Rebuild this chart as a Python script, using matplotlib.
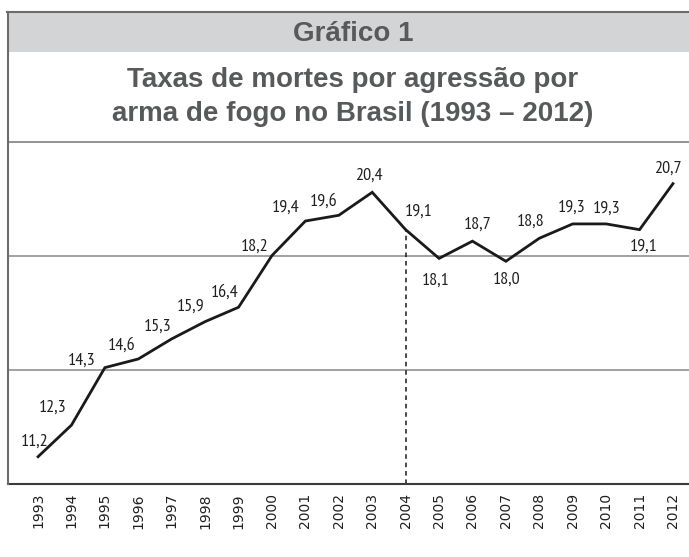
import matplotlib
matplotlib.use("Agg")
import matplotlib.pyplot as plt
from matplotlib.lines import Line2D
from matplotlib.patches import Rectangle

years = list(range(1993, 2013))
rates = [11.2, 12.3, 14.3, 14.6, 15.3, 15.9, 16.4, 18.2, 19.4, 19.6,
         20.4, 19.1, 18.1, 18.7, 18.0, 18.8, 19.3, 19.3, 19.1, 20.7]
labels = ["11,2", "12,3", "14,3", "14,6", "15,3", "15,9", "16,4", "18,2", "19,4", "19,6",
          "20,4", "19,1", "18,1", "18,7", "18,0", "18,8", "19,3", "19,3", "19,1", "20,7"]
# label offsets (pixels)
offsets = [(-3, 15), (-19, 17), (-23, 7), (-17, 13), (-14, 12), (-14, 15), (-14, 15),
           (-17, 9), (-20, 13), (-15, 14), (-3, 17), (13, 18), (-3, -22), (5, 16),
           (1, -18), (-9, 17), (-1, 16), (1, 15), (4, -17), (-5, 15)]
header = "Gráfico 1"
title_lines = ["Taxas de mortes por agressão por", "arma de fogo no Brasil (1993 – 2012)"]

W, H = 689, 557
fig = plt.figure(figsize=(W / 100, H / 100), dpi=100)

def fx(px):
    return px / W

def fy(py):
    return 1 - py / H

TXT = "#58595b"
# header band
fig.patches.append(Rectangle((fx(7), fy(52)), 1 - fx(7), fy(12) - fy(52),
                             transform=fig.transFigure, facecolor="#d3d4d6",
                             edgecolor="none", zorder=0))
fig.lines.append(Line2D([fx(7), 1], [fy(12), fy(12)], transform=fig.transFigure,
                        color="#6b6b6b", lw=1.5))
fig.lines.append(Line2D([fx(7.5), fx(7.5)], [fy(12), fy(484)], transform=fig.transFigure,
                        color="#6b6b6b", lw=1.5))
fig.text(fx(353), fy(41), header, ha="center", va="baseline", fontsize=20,
         fontweight="bold", color=TXT, family="Liberation Sans")
fig.text(fx(353), fy(87), title_lines[0], ha="center", va="baseline", fontsize=20,
         fontweight="bold", color=TXT, family="Liberation Sans")
fig.text(fx(353), fy(121), title_lines[1], ha="center", va="baseline", fontsize=20,
         fontweight="bold", color=TXT, family="Liberation Sans")

ax = fig.add_axes([fx(8), fy(484), 1 - fx(8), fy(142) - fy(484)])
ax.set_xlim(1992.1, 2012.48)
ax.set_ylim(10.25, 22.15)
ax.set_yticks([14.2, 18.2])
ax.yaxis.grid(True, color="#9a9a9a", lw=1.3)
ax.tick_params(axis="y", length=0, labelleft=False)
ax.set_xticks(years)
ax.set_xticklabels([str(y) for y in years], rotation=90, fontsize=10,
                   color="#231f20", family="DejaVu Sans")
ax.tick_params(axis="x", length=0, pad=6.5)
ax.spines["right"].set_visible(False)
ax.spines["top"].set_color("#8a8a8a")
ax.spines["top"].set_linewidth(1.3)
ax.spines["left"].set_visible(False)
ax.spines["bottom"].set_color("#3a3a3a")
ax.spines["bottom"].set_linewidth(1.5)
ax.set_axisbelow(True)

ax.plot(years, rates, color="#1a1a1a", lw=2.0, zorder=3, solid_joinstyle="miter")
i04 = years.index(2004)
ax.plot([2004, 2004], [10.25, rates[i04]], color="#1a1a1a", lw=1.1,
        ls=(0, (3, 2.5)), zorder=2)

for x, y, lab, (dx, dy) in zip(years, rates, labels, offsets):
    ax.annotate(lab, (x, y), xytext=(dx, dy), textcoords="offset pixels",
                ha="center", va="center", fontsize=13, color="#231f20",
                family=["PT Sans Narrow", "DejaVu Sans"], zorder=4)

fig.savefig("out.png", dpi=100)
